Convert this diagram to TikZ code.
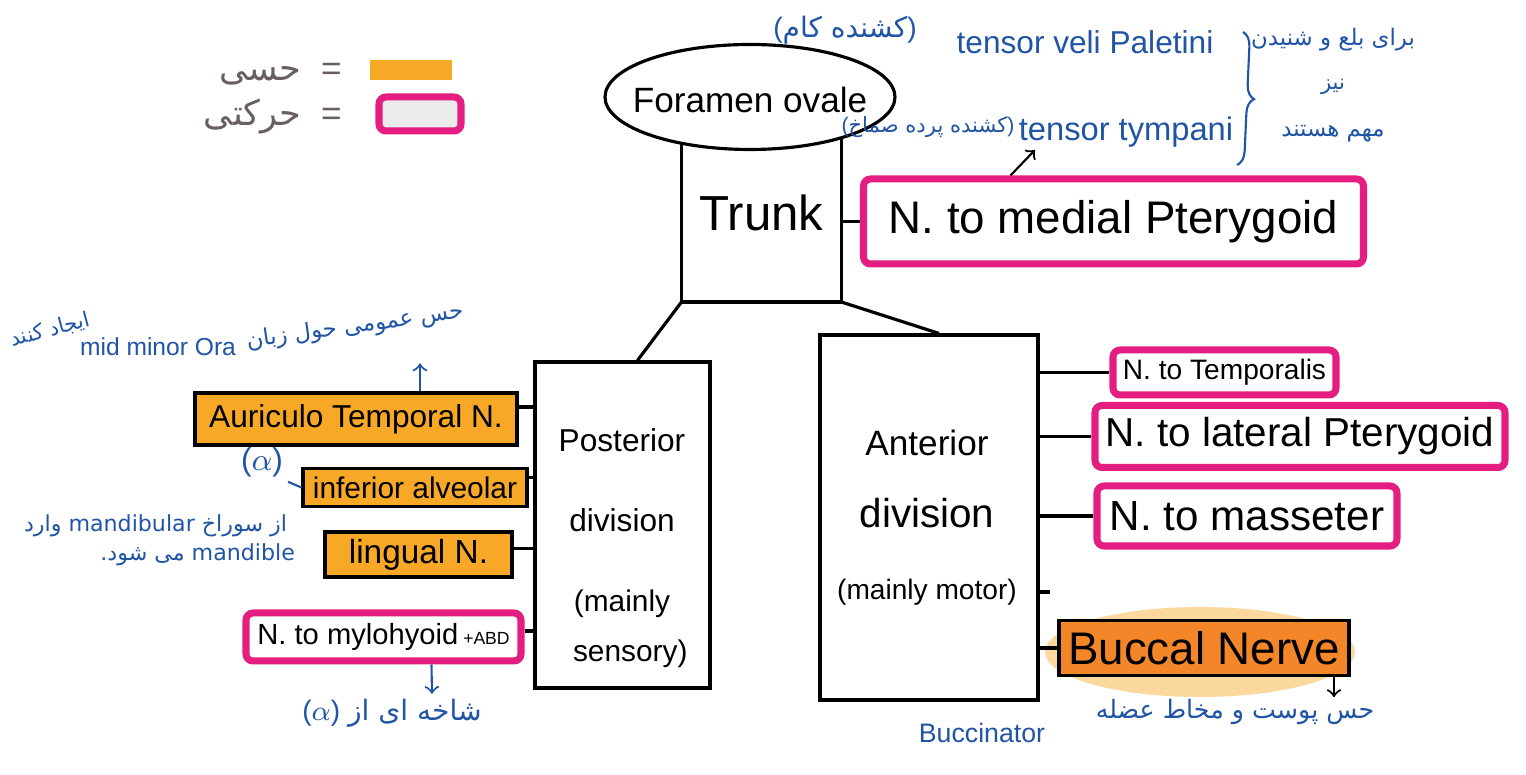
\documentclass[tikz,border=0pt]{standalone}
\usepackage{fontspec}
\setmainfont{Liberation Sans}
\newfontfamily\farsi[Script=Arabic]{DejaVu Sans}
\TeXXeTstate=1
\usetikzlibrary{shapes.geometric,decorations.pathreplacing}
\newcommand{\sz}[1]{\fontsize{#1}{#1}\selectfont}
\tikzstyle{every path}=[line width=0.9pt]
\definecolor{sensory}{RGB}{246,168,38}
\definecolor{buccalorange}{RGB}{243,134,40}
\definecolor{motor}{RGB}{228,30,128}
\definecolor{ink}{RGB}{32,84,165}
\definecolor{pencil}{RGB}{105,95,95}
\tikzstyle{sensorybox}=[draw=black, fill=sensory, inner sep=1pt]
\tikzstyle{motorbox}=[draw=motor, line width=2pt, fill=white, rounded corners=2pt, inner sep=1pt]
\tikzstyle{divbox}=[draw, inner sep=0pt]
\tikzstyle{note}=[text=ink, inner sep=1pt]
\tikzstyle{inkline}=[draw=ink, line width=0.6pt]

\begin{document}
\begin{tikzpicture}
            \useasboundingbox (0,0) rectangle (15.26,-7.75);

            \node[fill=sensory, minimum width=0.82cm, minimum height=0.2cm, inner sep=0pt] (keysens) at (4.11,-0.70) {};
            \node[draw=motor, line width=2pt, fill=black!8, rounded corners=2pt,
                minimum width=0.82cm, minimum height=0.34cm, inner sep=0pt] (keymot) at (4.20,-1.14) {};
            \node[text=pencil, anchor=east] (keysenstext) at (3.55,-0.74)
                {\sz{10}{\farsi\beginR حسی\endR}\ \ =};
            \node[text=pencil, anchor=east] (keymottext) at (3.55,-1.16)
                {\sz{10}{\farsi\beginR حرکتی\endR}\ \ =};

            \node[minimum width=1.57cm, minimum height=1.75cm, inner sep=0pt] (trunk) at (7.615,-2.13) {\sz{14}Trunk};
            \draw (trunk.north west) -- (trunk.south west) -- (trunk.south east) -- (trunk.north east);
            \node[ellipse, draw, fill=white, minimum width=2.9cm, minimum height=1.05cm, inner sep=0pt] (foramen) at (7.5,-0.97) {};
            \node (foramentext) at (7.5,-1.0) {\sz{10}Foramen ovale};

            \node[motorbox, minimum width=5.0cm, minimum height=0.85cm] (medpt) at (11.135,-2.215) {\sz{13}N. to medial Pterygoid};
            \draw (trunk.east |- medpt.west) -- (medpt.west);

            \node[divbox, minimum width=1.75cm, minimum height=3.26cm] (post) at (6.225,-5.25) {};
            \node[align=center] (posttext) at (6.22,-5.48)
                {\sz{9}Posterior\\[0.38cm] \sz{9}division\\[0.38cm] \sz{8.5}(mainly\\[0.08cm] \sz{8.5}\ \ sensory)};
            \node[divbox, minimum width=2.18cm, minimum height=3.65cm] (ant) at (9.29,-5.175) {};
            \node[align=center] (anttext) at (9.27,-5.18)
                {\sz{10}Anterior\\[0.3cm] \sz{11.5}division\\[0.3cm] \sz{8}(mainly motor)};
            \draw (trunk.south west) -- ([xshift=0.15cm]post.north);
            \draw (trunk.south east) -- ([xshift=0.1cm]ant.north);

            \node[sensorybox, minimum width=3.22cm, minimum height=0.52cm] (auric) at (3.56,-4.19) {\sz{9}Auriculo Temporal N.};
            \node[sensorybox, minimum width=2.24cm, minimum height=0.38cm] (infalv) at (4.15,-4.875) {\sz{8.5}inferior alveolar};
            \node[sensorybox, minimum width=1.87cm, minimum height=0.45cm] (lingual) at (4.185,-5.545) {\sz{9.5}lingual N.};
            \node[motorbox, minimum width=2.75cm, minimum height=0.48cm] (mylo) at (3.835,-6.37) {\sz{8.3}N. to mylohyoid\,{\sz{5}+ABD}};
            \draw ([yshift=0.12cm]auric.east) -- ([yshift=0.12cm]auric.east -| post.west);
            \draw ([yshift=0.1cm]infalv.east) -- ([yshift=0.1cm]infalv.east -| post.west);
            \draw ([yshift=0.06cm]lingual.east) -- ([yshift=0.06cm]lingual.east -| post.west);
            \draw ([yshift=0.06cm]mylo.east) -- ([yshift=0.06cm]mylo.east -| post.west);

            \node[motorbox, minimum width=2.23cm, minimum height=0.45cm] (temporalis) at (12.245,-3.725) {\sz{8}N. to Temporalis};
            \node[motorbox, minimum width=4.1cm, minimum height=0.62cm] (latpt) at (13.0,-4.365) {\sz{11.5}N. to lateral Pterygoid};
            \node[motorbox, minimum width=3.0cm, minimum height=0.6cm] (masseter) at (12.47,-5.16) {\sz{12}N. to masseter};
            \fill[sensory!45] (12.0,-6.52) ellipse (1.55cm and 0.45cm);
            \node[sensorybox, fill=buccalorange, minimum width=2.9cm, minimum height=0.55cm] (buccal) at (12.04,-6.48) {\sz{13}Buccal Nerve};
            \coordinate (stub) at (10.5,-5.92);
            \draw (ant.east |- temporalis.west) -- (temporalis.west);
            \draw (ant.east |- latpt.west) -- (latpt.west);
            \draw (ant.east |- masseter.west) -- (masseter.west);
            \draw (ant.east |- buccal.west) -- (buccal.west);
            \draw (ant.east |- stub) -- (stub);

            \node[note] (kamfa) at (8.45,-0.30) {\sz{8}({\farsi\beginR کشنده کام\endR})};
            \node[note] (tvp) at (10.85,-0.42) {\sz{9}tensor veli Paletini};
            \node[note] (semakhfa) at (9.28,-1.27) {\sz{6}({\farsi\beginR کشنده پرده صماخ\endR})};
            \node[note] (tympani) at (11.26,-1.32) {\sz{9.3}tensor tympani};
            \coordinate (tymptip) at (10.35,-1.50);
            \draw[->, line width=0.6pt] ([xshift=-1.03cm]medpt.north) -- (tymptip);
            \draw[inkline, decorate, decoration={brace, amplitude=4pt}] (12.43,-0.32) -- (12.37,-1.65);
            \node[note, align=center] (bracefa) at (13.33,-0.85)
                {\sz{6.5}\farsi\beginR برای بلع و شنیدن\endR\\[0.02cm] \sz{6}\farsi\beginR نیز\endR\\[0.04cm] \sz{6.5}\farsi\beginR مهم هستند\endR};

            \node[note, rotate=15] (kardanfa) at (0.5,-3.3) {\sz{6}\farsi\beginR ایجاد کنند\endR};
            \node[note] (midminor) at (1.58,-3.47) {\sz{7}mid minor Ora};
            \node[note, rotate=8] (zabanfa) at (3.55,-3.27) {\sz{6.5}\farsi\beginR حس عمومی حول زبان\endR};
            \draw[inkline, ->] ([xshift=0.64cm]auric.north) -- ([xshift=0.64cm, yshift=0.28cm]auric.north);

            \node[note] (alpha) at (2.62,-4.62) {\sz{9}($\alpha$)};
            \draw[inkline] (alpha.south east) -- (infalv.west);
            \node[note, anchor=east] (foramenfa) at (2.92,-5.26)
                {\sz{6.3}\farsi\beginR از سوراخ \beginL mandibular\endL{} وارد\endR};
            \node[note, anchor=east] (mandiblefa) at (3.0,-5.55)
                {\sz{6.3}\farsi\beginR \beginL mandible\endL{} می شود.\endR};

            \node[note] (shakhefa) at (3.92,-7.13) {\sz{8}($\alpha$)\ {\farsi\beginR شاخه ای از\endR}};
            \draw[inkline, ->] ([xshift=0.48cm]mylo.south) -- ([xshift=0.4cm]shakhefa.north);

            \node[note] (buccinator) at (9.82,-7.33) {\sz{7.6}Buccinator};
            \node[note] (pustfa) at (12.35,-7.12) {\sz{7.2}\farsi\beginR حس پوست و مخاط عضله\endR};
            \draw[->, line width=0.6pt] ([xshift=1.3cm]buccal.south) -- ([xshift=1.3cm, yshift=-0.2cm]buccal.south);
\end{tikzpicture}
\end{document}
